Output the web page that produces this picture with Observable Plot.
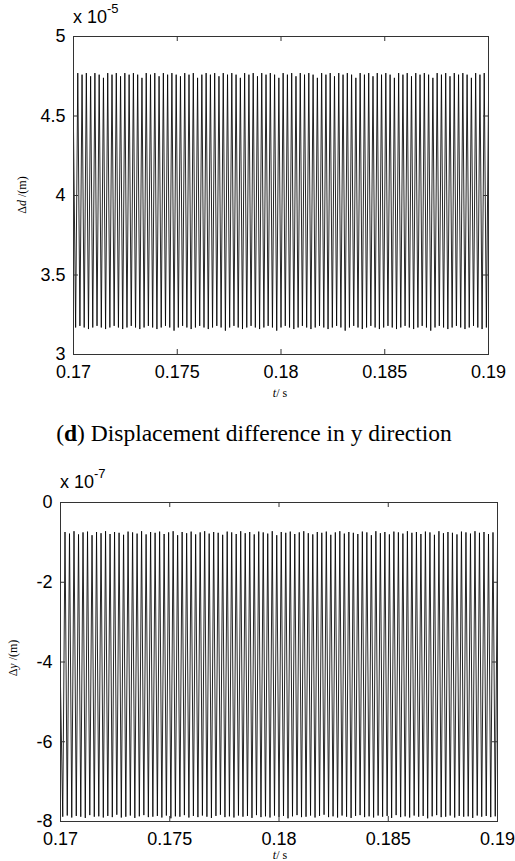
<!DOCTYPE html>
<html>
<head>
<meta charset="utf-8">
<script src="https://cdn.jsdelivr.net/npm/d3@7"></script>
<script src="https://cdn.jsdelivr.net/npm/@observablehq/plot@0.6"></script>
<style>
  html, body { margin: 0; padding: 0; background: #fff; }
  #page { position: relative; width: 515px; height: 861px; overflow: hidden; }
  #page svg { position: absolute; left: 0; }
  .lbl { position: absolute; white-space: nowrap; color: #000; }
  .exp { font-family: "Liberation Sans", Arial, sans-serif; font-size: 18px; line-height: 18px; }
  .exp sup { font-size: 13px; vertical-align: 0; position: relative; top: -10px; }
  .ser { font-family: "Liberation Serif", "Times New Roman", serif; }
  .rot { transform: translate(-50%, -50%) rotate(-90deg); font-size: 12px; line-height: 12px; }
  .xl { transform: translate(-50%, -50%); font-size: 12px; line-height: 12px; }
  #cap { position: absolute; left: 0; width: 508px; top: 420px; text-align: center; font-size: 23.5px; line-height: 26px; }
</style>
</head>
<body>
<div id="page">
  <div class="lbl exp" style="left:73px; top:8px;">x 10<sup>-5</sup></div>
  <div class="lbl ser rot" style="left:22px; top:195px;">Δ<i>d</i> /(m)</div>
  <div class="lbl ser xl" style="left:280px; top:393px;"><i>t</i>/ s</div>
  <div id="cap" class="ser">(<b>d</b>) Displacement difference in y direction</div>
  <div class="lbl exp" style="left:60px; top:473px;">x 10<sup>-7</sup></div>
  <div class="lbl ser rot" style="left:13px; top:658px;">Δ<i>y</i> /(m)</div>
  <div class="lbl ser xl" style="left:280px; top:855px;"><i>t</i>/ s</div>
</div>
<script>
// time span shown (s)
const tStart = 0.17;
const tEnd = 0.19;
const xTickValues = [0.17, 0.175, 0.18, 0.185, 0.19];

// Panel 1: Δd (units of 1e-5 m), samples read at successive peaks/troughs
const dTicks = [3, 3.5, 4, 4.5, 5];
const dValues = [
4.42,
3.17,4.77, 3.18,4.76, 3.17,4.77, 3.16,4.75, 3.17,4.77, 3.18,4.76, 3.17,4.74, 3.16,4.77, 3.17,4.76, 3.18,4.77,
3.17,4.75, 3.16,4.77, 3.17,4.76, 3.18,4.77, 3.17,4.76, 3.16,4.74, 3.17,4.77, 3.18,4.76, 3.17,4.77, 3.16,4.75,
3.17,4.77, 3.18,4.76, 3.17,4.77, 3.15,4.76, 3.17,4.75, 3.18,4.77, 3.17,4.76, 3.16,4.77, 3.17,4.74, 3.18,4.76,
3.17,4.77, 3.16,4.76, 3.17,4.77, 3.18,4.75, 3.17,4.77, 3.15,4.76, 3.17,4.77, 3.18,4.76, 3.17,4.74, 3.16,4.77,
3.17,4.76, 3.18,4.77, 3.17,4.75, 3.16,4.77, 3.17,4.76, 3.18,4.77, 3.17,4.76, 3.15,4.74, 3.17,4.77, 3.18,4.76,
3.17,4.77, 3.16,4.75, 3.17,4.77, 3.18,4.76, 3.17,4.77, 3.16,4.76, 3.17,4.74, 3.18,4.77, 3.17,4.76, 3.16,4.77,
3.17,4.75, 3.18,4.77, 3.17,4.76, 3.15,4.77, 3.17,4.76, 3.18,4.74, 3.17,4.77, 3.16,4.76, 3.17,4.77, 3.18,4.75,
3.17,4.77, 3.16,4.76, 3.17,4.77, 3.18,4.76, 3.17,4.74, 3.16,4.77, 3.17,4.76, 3.18,4.77, 3.17,4.75, 3.16,4.77,
3.17,4.76, 3.18,4.77, 3.17,4.76, 3.15,4.74, 3.17,4.77, 3.18,4.76, 3.17,4.77, 3.16,4.75, 3.17,4.77, 3.18,4.76,
3.17,4.77, 3.16,4.76, 3.17,4.74, 3.18,4.77, 3.17,4.76, 3.16,4.77, 3.17,4.60
];

// Panel 2: Δy (units of 1e-7 m)
const yTicksB = [-8, -6, -4, -2, 0];
const yValues = [
-4.60,
-7.88,-0.74, -7.85,-0.78, -7.90,-0.72, -7.86,-0.80, -7.88,-0.75, -7.91,-0.73, -7.84,-0.82, -7.88,-0.74, -7.87,-0.77, -7.90,-0.72,
-7.86,-0.79, -7.89,-0.74, -7.83,-0.76, -7.90,-0.81, -7.88,-0.73, -7.85,-0.75, -7.91,-0.78, -7.87,-0.72, -7.84,-0.80, -7.89,-0.74,
-7.88,-0.76, -7.86,-0.73, -7.90,-0.79, -7.85,-0.75, -7.92,-0.72, -7.87,-0.82, -7.88,-0.74, -7.84,-0.77, -7.90,-0.73, -7.86,-0.80,
-7.89,-0.75, -7.85,-0.72, -7.88,-0.78, -7.91,-0.74, -7.86,-0.76, -7.83,-0.81, -7.89,-0.73, -7.87,-0.75, -7.90,-0.79, -7.85,-0.72,
-7.88,-0.77, -7.86,-0.74, -7.91,-0.80, -7.84,-0.73, -7.89,-0.75, -7.87,-0.78, -7.90,-0.72, -7.85,-0.82, -7.88,-0.74, -7.86,-0.76,
-7.92,-0.73, -7.87,-0.79, -7.84,-0.75, -7.89,-0.72, -7.88,-0.77, -7.85,-0.80, -7.90,-0.74, -7.86,-0.76, -7.83,-0.73, -7.89,-0.81,
-7.87,-0.75, -7.90,-0.72, -7.85,-0.78, -7.88,-0.74, -7.91,-0.76, -7.86,-0.79, -7.84,-0.73, -7.89,-0.75, -7.87,-0.82, -7.90,-0.72,
-7.85,-0.77, -7.88,-0.74, -7.86,-0.80, -7.91,-0.73, -7.84,-0.75, -7.89,-0.78, -7.87,-0.72, -7.90,-0.76, -7.85,-0.74, -7.88,-0.79,
-7.86,-0.73, -7.92,-0.75, -7.87,-0.81, -7.84,-0.72, -7.89,-0.77, -7.88,-0.74, -7.85,-0.76, -7.90,-0.80, -7.86,-0.73, -7.88,-0.75,
-7.87,-0.78, -7.91,-0.72, -7.85,-0.76, -7.88,-0.74, -7.86,-0.79, -7.89,-0.75, -7.87,-0.95
];

function panel({values, yDomain, yTicks, height, mt, mb, ml, mr, padX}) {
  const n = values.length;
  const data = values.map((v, i) => ({t: tStart + i * (tEnd - tStart) / (n - 1), v}));
  const fh = height - mt - mb;
  const fw = 515 - ml - mr;
  const tl = 5;
  return Plot.plot({
    width: 515, height,
    marginTop: mt, marginBottom: mb, marginLeft: ml, marginRight: mr,
    style: {fontFamily: "'Liberation Sans', Arial, sans-serif", fontSize: "18px", color: "#000", background: "transparent", overflow: "visible"},
    x: {domain: [tStart, tEnd]},
    y: {domain: yDomain},
    marks: [
      Plot.line(data, {x: "t", y: "v", stroke: "#000", strokeWidth: 0.85}),
      Plot.frame({stroke: "#333", strokeWidth: 1}),
      Plot.tickX(xTickValues, {x: Plot.identity, insetTop: fh - tl, stroke: "#333"}),
      Plot.tickX(xTickValues, {x: Plot.identity, insetBottom: fh - tl, stroke: "#333"}),
      Plot.tickY(yTicks, {y: Plot.identity, insetRight: fw - tl, stroke: "#333"}),
      Plot.tickY(yTicks, {y: Plot.identity, insetLeft: fw - tl, stroke: "#333"}),
      Plot.axisX({ticks: xTickValues, tickSize: 0, tickPadding: padX, label: null, tickFormat: d => String(d)}),
      Plot.axisY({ticks: yTicks, tickSize: 0, tickPadding: 8, label: null, tickFormat: d => String(d)})
    ]
  });
}

const page = document.getElementById("page");
const top1 = panel({values: dValues, yDomain: [3, 5], yTicks: dTicks, height: 405, mt: 36, mb: 51, ml: 73, mr: 27, padX: 11});
top1.style.top = "0px";
page.appendChild(top1);
const bot = panel({values: yValues, yDomain: [-8, 0], yTicks: yTicksB, height: 401, mt: 42, mb: 40, ml: 60, mr: 18, padX: 11});
bot.style.top = "460px";
page.appendChild(bot);
</script>
</body>
</html>
